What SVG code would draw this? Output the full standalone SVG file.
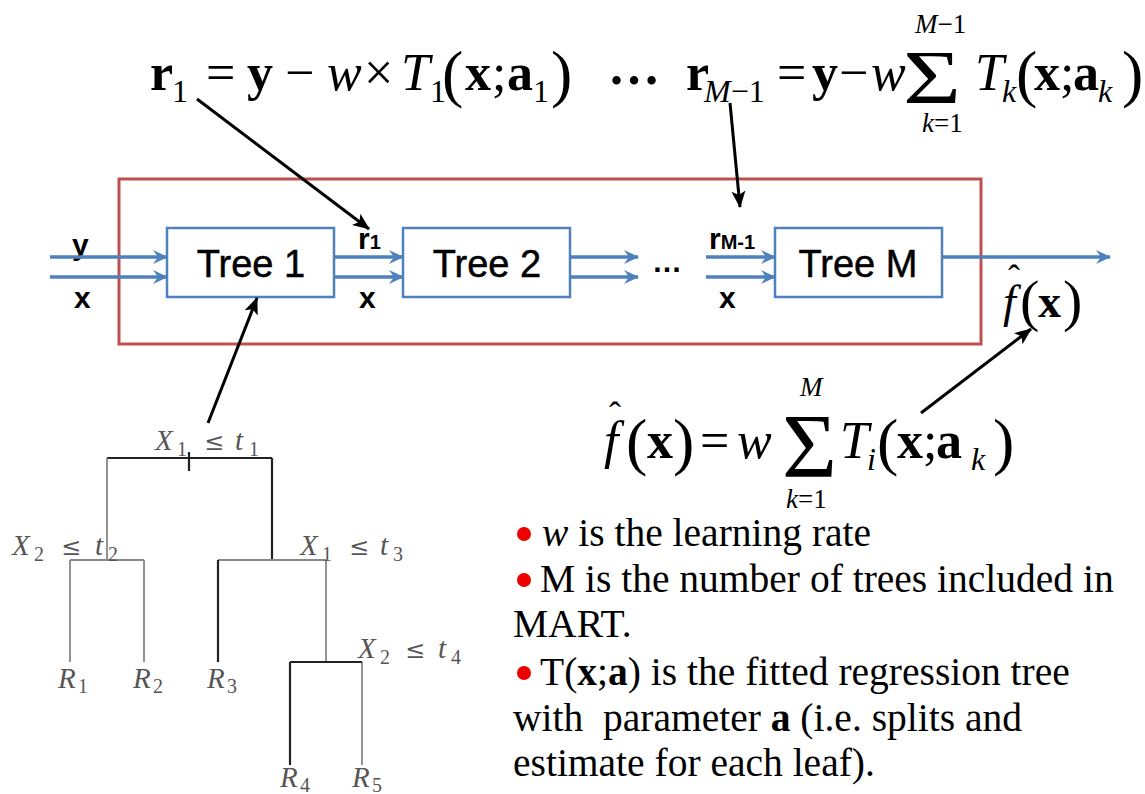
<svg xmlns="http://www.w3.org/2000/svg" width="1145" height="794" viewBox="0 0 1145 794">
<style>
.m{font-family:"Liberation Serif","Times New Roman",serif;font-size:52px;fill:#000}
.b{font-weight:bold}
.i{font-style:italic}
.sub{font-size:32px}
.big{font-size:64px}
.lim{font-size:27px}
.sig1{font-size:77px}
.sig2{font-size:92px}
.of{font-size:46px}
.op{font-size:58px}
.hat{font-size:36px}
.lab{font-family:"Liberation Sans",Arial,sans-serif;font-weight:bold;font-size:30px;fill:#000}
.lsub{font-size:20px}
.tree{font-family:"Liberation Sans",Arial,sans-serif;font-size:38px;fill:#000;stroke:#000;stroke-width:0.5;text-anchor:middle}
.box{fill:#fff;stroke:#4f81bd;stroke-width:2.5}
.flow{stroke:#4f81bd;stroke-width:3.5;fill:none;marker-end:url(#ba)}
.call{stroke:#000;stroke-width:3;fill:none;marker-end:url(#ka)}
.tl{font-family:"Liberation Serif","Times New Roman",serif;font-style:italic;font-size:29px;fill:#555}
.ts{font-family:"Liberation Serif","Times New Roman",serif;font-size:20px;fill:#555}
.tr{font-family:"DejaVu Serif","Liberation Serif",serif;font-size:24px;fill:#555}
.dk{stroke:#222;stroke-width:2.2;fill:none}
.gr{stroke:#888;stroke-width:1.8;fill:none}
.txt{font-family:"Liberation Serif","Times New Roman",serif;font-size:39.5px;fill:#000}
.dot{fill:#e00}
</style>
<defs>
<marker id="ba" markerUnits="userSpaceOnUse" markerWidth="18" markerHeight="18" refX="14" refY="8" orient="auto">
<path d="M0,1 L15,8 L0,15 L5,8 Z" fill="#4f81bd"/>
</marker>
<marker id="ka" markerUnits="userSpaceOnUse" markerWidth="20" markerHeight="20" refX="16" refY="9" orient="auto">
<path d="M0,2 L17,9 L0,16 L4,9 Z" fill="#000"/>
</marker>
</defs>

<g id="equation-r1">
<text class="m b" x="150" y="90">r</text>
<text class="m sub" x="172" y="102">1</text>
<text class="m" x="206" y="90">=</text>
<text class="m b" x="247" y="90">y</text>
<text class="m" x="285" y="90">−</text>
<text class="m i" x="327" y="90">w</text>
<text class="m" x="364" y="90">×</text>
<text class="m i" x="401" y="90">T</text>
<text class="m sub" x="430" y="102">1</text>
<text class="m big" x="442" y="95">(</text>
<text class="m b" x="465" y="90">x</text>
<text class="m" x="492" y="90">;</text>
<text class="m b" x="507" y="90">a</text>
<text class="m sub" x="533" y="102">1</text>
<text class="m big" x="551" y="95">)</text>
<text class="m b" x="608" y="84">…</text>
</g>

<g id="equation-rM">
<text class="m b" x="686" y="90">r</text>
<text class="m sub" x="704" y="102"><tspan class="i">M</tspan>−1</text>
<text class="m" x="777" y="90">=</text>
<text class="m b" x="812" y="90">y</text>
<text class="m" x="839" y="90">−</text>
<text class="m i" x="871" y="90">w</text>
<text class="m sig1" x="903" y="103" textLength="58" lengthAdjust="spacingAndGlyphs">Σ</text>
<text class="m lim" x="915" y="33"><tspan class="i">M</tspan>−1</text>
<text class="m lim" x="922" y="132"><tspan class="i">k</tspan>=1</text>
<text class="m i" x="975" y="90">T</text>
<text class="m sub i" x="1002" y="102">k</text>
<text class="m big" x="1016" y="95">(</text>
<text class="m b" x="1034" y="90">x</text>
<text class="m" x="1060" y="90">;</text>
<text class="m b" x="1073" y="90">a</text>
<text class="m sub i" x="1098" y="102">k</text>
<text class="m big" x="1122" y="95">)</text>
</g>

<g id="mart-frame">
<rect x="119" y="179" width="862" height="165" fill="none" stroke="#c0504d" stroke-width="3"/>
</g>

<g id="tree1">
<rect class="box" x="167" y="228" width="167" height="69"/>
<text class="tree" x="251" y="277">Tree 1</text>
</g>
<g id="tree2">
<rect class="box" x="403" y="228" width="167" height="69"/>
<text class="tree" x="487" y="277">Tree 2</text>
</g>
<g id="treeM">
<rect class="box" x="775" y="228" width="167" height="69"/>
<text class="tree" x="858" y="277">Tree M</text>
</g>

<g id="flow-labels">
<text class="lab" x="72" y="255">y</text>
<text class="lab" x="74" y="308">x</text>
<text class="lab" x="358" y="249">r<tspan class="lsub">1</tspan></text>
<text class="lab" x="359" y="308">x</text>
<text class="lab" x="652" y="272">…</text>
<text class="lab" x="709" y="249">r<tspan class="lsub">M-1</tspan></text>
<text class="lab" x="719" y="308">x</text>
</g>

<g id="output-label">
<text class="m i of" x="1003" y="317">f</text>
<text class="m hat" x="1008" y="290">ˆ</text>
<text class="m op" x="1020" y="320">(</text>
<text class="m b of" x="1038" y="317">x</text>
<text class="m op" x="1063" y="320">)</text>
</g>

<g id="equation-f">
<text class="m i" x="604" y="458">f</text>
<text class="m hat" x="609" y="427">ˆ</text>
<text class="m big" x="626" y="463">(</text>
<text class="m b" x="647" y="458">x</text>
<text class="m big" x="673" y="463">)</text>
<text class="m" x="700" y="458">=</text>
<text class="m i" x="737" y="458">w</text>
<text class="m sig2" x="782" y="477" textLength="55" lengthAdjust="spacingAndGlyphs">Σ</text>
<text class="m lim i" x="800" y="396">M</text>
<text class="m lim" x="786" y="508"><tspan class="i">k</tspan>=1</text>
<text class="m i" x="840" y="458">T</text>
<text class="m sub i" x="867" y="470">i</text>
<text class="m big" x="877" y="463">(</text>
<text class="m b" x="897" y="458">x</text>
<text class="m" x="923" y="458">;</text>
<text class="m b" x="936" y="458">a</text>
<text class="m sub i" x="971" y="470">k</text>
<text class="m big" x="993" y="463">)</text>
</g>

<g id="regression-tree">
<path class="dk" d="M107,458 H272 M189,452 V471 M272,458 V560"/>
<path class="gr" d="M107,458 V560 M70,560 H144 M70,560 V662 M144,560 V662"/>
<path class="gr" d="M218,560 H326 M326,560 V662 M362,662 V765"/>
<path class="dk" d="M218,560 V662 M290,662 H362 M290,662 V765"/>
<text class="tl" x="155" y="450">X</text><text class="ts" x="177" y="456">1</text><text class="tr" x="204" y="450">≤</text><text class="tl" x="235" y="450">t</text><text class="ts" x="249" y="456">1</text>
<text class="tl" x="12" y="555">X</text><text class="ts" x="34" y="561">2</text><text class="tr" x="61" y="555">≤</text><text class="tl" x="95" y="555">t</text><text class="ts" x="108" y="561">2</text>
<text class="tl" x="300" y="555">X</text><text class="ts" x="322" y="561">1</text><text class="tr" x="349" y="555">≤</text><text class="tl" x="380" y="555">t</text><text class="ts" x="393" y="561">3</text>
<text class="tl" x="358" y="658">X</text><text class="ts" x="380" y="664">2</text><text class="tr" x="405" y="658">≤</text><text class="tl" x="438" y="658">t</text><text class="ts" x="451" y="664">4</text>
<text class="tl" x="58" y="688">R</text><text class="ts" x="78" y="693">1</text>
<text class="tl" x="133" y="688">R</text><text class="ts" x="153" y="693">2</text>
<text class="tl" x="207" y="688">R</text><text class="ts" x="227" y="693">3</text>
<text class="tl" x="280" y="787">R</text><text class="ts" x="300" y="792">4</text>
<text class="tl" x="352" y="787">R</text><text class="ts" x="372" y="792">5</text>
</g>

<g id="notes">
<circle class="dot" cx="524" cy="534" r="7"/>
<text class="txt" x="542" y="546"><tspan class="i">w</tspan> is the learning rate</text>
<circle class="dot" cx="524" cy="580" r="7"/>
<text class="txt" x="540" y="592">M is the number of trees included in</text>
<text class="txt" x="513" y="637">MART.</text>
<circle class="dot" cx="524" cy="673" r="7"/>
<text class="txt" x="540" y="685">T(<tspan class="b">x</tspan>;<tspan class="b">a</tspan>) is the fitted regression tree</text>
<text class="txt" x="513" y="731" xml:space="preserve">with  parameter <tspan class="b">a</tspan> (i.e. splits and</text>
<text class="txt" x="513" y="776">estimate for each leaf).</text>
</g>

<g id="connectors">
<line class="flow" x1="50" y1="257" x2="167" y2="257"/>
<line class="flow" x1="50" y1="277" x2="167" y2="277"/>
<line class="flow" x1="334" y1="257" x2="403" y2="257"/>
<line class="flow" x1="334" y1="277" x2="403" y2="277"/>
<line class="flow" x1="570" y1="257" x2="638" y2="257"/>
<line class="flow" x1="570" y1="277" x2="638" y2="277"/>
<line class="flow" x1="706" y1="257" x2="775" y2="257"/>
<line class="flow" x1="706" y1="277" x2="775" y2="277"/>
<line class="flow" x1="942" y1="257" x2="1110" y2="257"/>
<line class="call" x1="197" y1="99" x2="369" y2="229"/>
<line class="call" x1="730" y1="103" x2="740" y2="207"/>
<line class="call" x1="208" y1="423" x2="257" y2="298"/>
<line class="call" x1="921" y1="413" x2="1031" y2="329"/>
</g>
</svg>
